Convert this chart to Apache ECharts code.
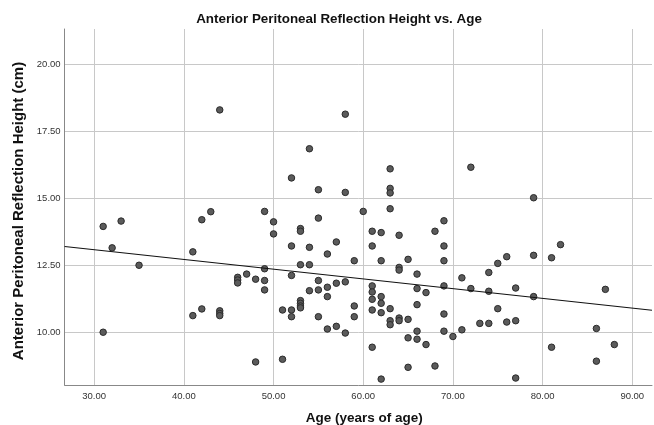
<!DOCTYPE html>
<html>
<head>
<meta charset="utf-8">
<script src="https://cdn.jsdelivr.net/npm/echarts@6/dist/echarts.min.js"></script>
<style>
html,body{margin:0;padding:0;background:#fff;}
#chart{width:654px;height:425px;}
</style>
</head>
<body>
<div id="chart"></div>
<script>
// Data
const ages = [
  31,31,32,33,35,
  41,41,42,42,43,
  44,44,44,44,
  46,46,46,47,48,48,
  49,49,49,49,50,50,
  51,51,52,52,52,52,52,
  53,53,53,53,53,53,53,
  54,54,54,54,
  55,55,55,55,55,
  56,56,56,56,57,57,57,
  58,58,58,58,59,59,59,60,
  61,61,61,61,61,61,61,
  62,62,62,62,62,62,
  63,63,63,63,63,63,63,
  64,64,64,64,64,
  65,65,65,65,
  66,66,66,66,66,
  67,67,68,68,
  69,69,69,69,69,69,
  70,71,71,72,72,73,
  74,74,74,75,75,76,76,
  77,77,77,79,79,79,
  81,81,82,86,86,87,88
];
const heights = [
  13.95,10.00,13.15,14.15,12.50,
  13.00,10.62,14.20,10.87,14.50,
  18.30,10.80,10.70,10.62,
  12.05,11.95,11.84,12.17,11.98,8.89,
  14.51,12.37,11.93,11.58,14.12,13.67,
  10.83,8.99,15.76,13.22,12.12,10.83,10.58,
  13.87,13.77,12.52,11.18,11.08,10.98,10.91,
  16.85,13.17,12.52,11.55,
  15.32,14.26,11.93,11.58,10.58,
  12.92,11.68,11.33,10.12,13.37,11.83,10.22,
  18.14,15.22,11.88,9.97,12.67,10.98,10.58,14.51,
  13.77,13.22,11.73,11.50,11.23,10.83,9.44,
  13.72,12.67,11.33,11.08,10.73,8.25,
  16.10,15.37,15.20,14.61,10.88,10.43,10.28,
  13.62,12.42,12.32,10.53,10.43,
  12.72,10.48,9.79,8.69,
  12.17,11.63,11.03,10.04,9.74,
  11.48,9.54,13.77,8.74,
  14.16,13.22,12.67,11.73,10.68,10.04,
  9.84,12.03,10.09,16.16,11.63,10.33,
  12.23,11.53,10.33,12.57,10.88,12.82,10.38,
  11.65,10.43,8.29,15.02,12.87,11.33,
  12.78,9.44,13.27,10.14,8.92,11.60,9.54
];
// Fit line end points
const fitAges = [26.7, 92.2];
const fitHeights = [13.20, 10.82];
// Tick labels
const xTicks = [30, 40, 50, 60, 70, 80, 90];
const yTicks = [10, 12.5, 15, 17.5, 20];

const points = ages.map((a, i) => [a, heights[i]]);
const fitLine = fitAges.map((a, i) => [a, fitHeights[i]]);

const chart = echarts.init(document.getElementById('chart'), null, {renderer: 'canvas'});
const font = '"Liberation Sans", Arial, sans-serif';
chart.setOption({
  animation: false,
  backgroundColor: '#ffffff',
  title: {
    text: 'Anterior Peritoneal Reflection Height vs. Age',
    left: 334, top: 8, textAlign: 'center',
    textStyle: {fontFamily: font, fontWeight: 'bold', fontSize: 13.4, color: '#111'}
  },
  grid: {left: 64.6, right: 2, top: 29, bottom: 40, containLabel: false, outerBoundsMode: 'none'},
  xAxis: {
    type: 'value', min: 26.7, max: 92.2,
    name: 'Age (years of age)', nameLocation: 'middle', nameGap: 26,
    nameTextStyle: {fontFamily: font, fontWeight: 'bold', fontSize: 13.5, color: '#111', padding: [0, 0, 0, 12]},
    axisLine: {show: true, lineStyle: {color: '#888', width: 1}},
    axisTick: {show: false, customValues: xTicks},
    axisLabel: {customValues: xTicks, margin: 6, fontSize: 9.5, color: '#333', fontFamily: font,
      formatter: v => v.toFixed(2)},
    splitLine: {show: true, lineStyle: {color: '#c8c8c8', width: 1}}
  },
  yAxis: {
    type: 'value', min: 8.03, max: 21.32,
    name: 'Anterior Peritoneal Reflection Height (cm)', nameLocation: 'middle', nameGap: 31,
    nameTextStyle: {fontFamily: font, fontWeight: 'bold', fontSize: 15, color: '#111', padding: [0, 0, 0, -8]},
    axisLine: {show: true, lineStyle: {color: '#888', width: 1}},
    axisTick: {show: false, customValues: yTicks},
    axisLabel: {customValues: yTicks, margin: 4, fontSize: 9.5, color: '#333', fontFamily: font,
      formatter: v => v.toFixed(2)},
    splitLine: {show: true, lineStyle: {color: '#c8c8c8', width: 1}}
  },
  series: [
    {
      type: 'scatter', data: points, symbol: 'circle', symbolSize: 6.5,
      itemStyle: {color: '#5b5b5b', borderColor: '#2b2b2b', borderWidth: 1, opacity: 1},
      z: 3
    },
    {
      type: 'line', data: fitLine, symbol: 'none',
      lineStyle: {color: '#111', width: 1.2}, z: 4
    }
  ]
});
</script>
</body>
</html>
